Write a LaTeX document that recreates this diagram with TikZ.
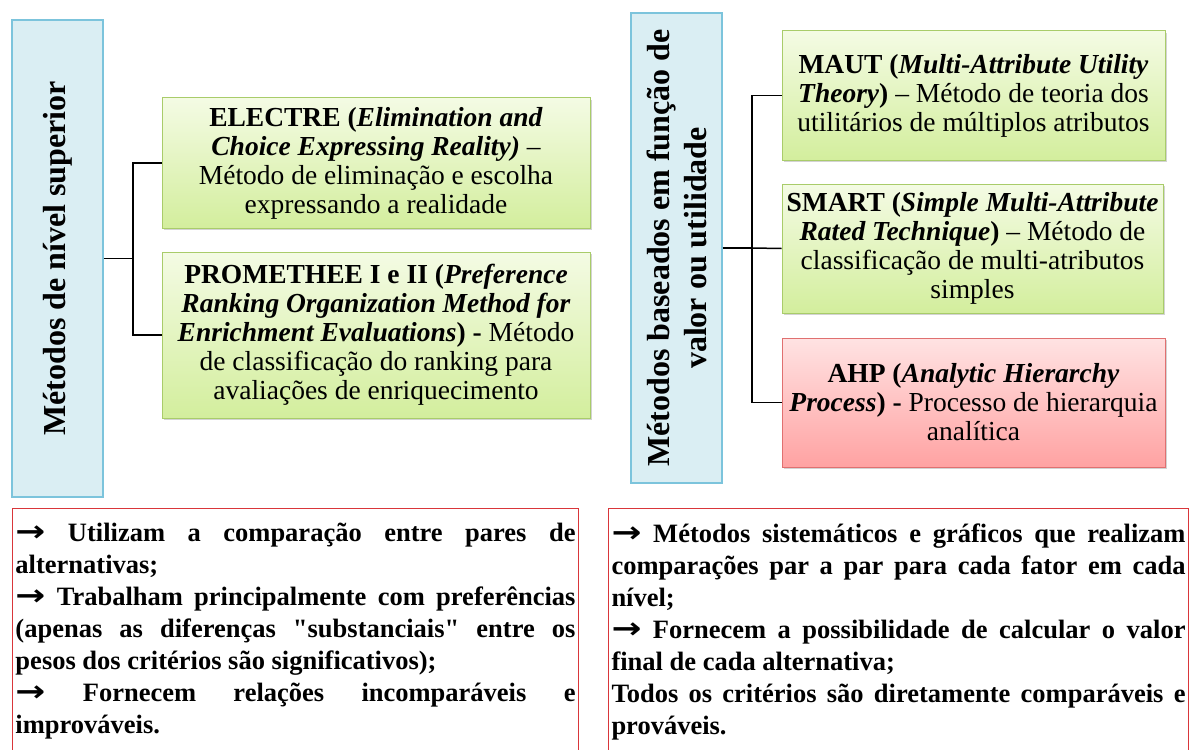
\documentclass[tikz,border=0pt]{standalone}
\usepackage{fontspec}
\usepackage{graphicx}
\setmainfont{Liberation Serif}
\newfontfamily\arrowfont{DejaVu Sans}
\newcommand\seta{\scalebox{1.35}[1.1]{\arrowfont →}}
\usetikzlibrary{shadows}
\definecolor{grpfill}{HTML}{DAEEF3}
\definecolor{grpline}{HTML}{7CC4DC}
\definecolor{mtop}{HTML}{F4FBE4}
\definecolor{mbot}{HTML}{D3EE9D}
\definecolor{mline}{HTML}{A9CC6A}
\definecolor{ptop}{HTML}{FFE3E3}
\definecolor{pbot}{HTML}{FFA2A2}
\definecolor{pline}{HTML}{E07070}
\definecolor{nline}{HTML}{D9363A}
\hyphenpenalty=10000
\tikzset{
  grpbox/.style={draw=grpline, fill=grpfill, line width=1.2pt, rotate=90, align=center,
    minimum height=91pt, font=\fontsize{32}{37}\selectfont\bfseries},
  methbox/.style={draw=mline, top color=mtop, bottom color=mbot, line width=1pt, align=center,
    drop shadow={shadow xshift=1.5pt, shadow yshift=-2pt, opacity=0.35},
    font=\fontsize{27.5}{29}\selectfont},
  ahpbox/.style={methbox, draw=pline, top color=ptop, bottom color=pbot},
  notebox/.style={draw=nline, line width=1pt, anchor=north west, inner xsep=3pt,
    minimum height=246pt, align=justify, font=\fontsize{26.5}{32}\selectfont\bfseries},
  link/.style={line width=1.5pt}
}
\begin{document}
\begin{tikzpicture}[x=1pt,y=-1pt]
\useasboundingbox (0,0) rectangle (1193,749);
\clip (0,0) rectangle (1193,749);

\node[grpbox, minimum width=477pt] (nivel) at (57.5,258.5) {Métodos de nível superior};
\node[methbox, minimum width=428pt, minimum height=130pt] (electre) at (376,163)
  {\textbf{ELECTRE (\textit{Elimination and}}\\ \textbf{\textit{Choice Expressing Reality)}} –\\
   Método de eliminação e escolha\\ expressando a realidade};
\node[methbox, minimum width=428pt, minimum height=166pt] (promethee) at (376,335)
  {\textbf{PROMETHEE I e II (\textit{Preference}}\\ \textbf{\textit{Ranking Organization Method for}}\\
   \textbf{\textit{Enrichment Evaluations}) -} Método\\ de classificação do ranking para\\
   avaliações de enriquecimento};

\node[grpbox, minimum width=470pt] (valor) at (676.5,248)
  {Métodos baseados em função de\\ valor ou utilidade};
\node[methbox, minimum width=383pt, minimum height=129pt] (maut) at (973.5,95.5)
  {\textbf{MAUT (\textit{Multi-Attribute Utility}}\\ \textbf{\textit{Theory})} – Método de teoria dos\\
   utilitários de múltiplos atributos};
\node[methbox, minimum width=381pt, minimum height=129pt] (smart) at (972.5,248.5)
  {\textbf{SMART (\textit{Simple Multi-Attribute}}\\ \textbf{\textit{Rated Technique})} – Método de\\
   classificação de multi-atributos\\ simples};
\node[ahpbox, minimum width=383pt, minimum height=129pt] (ahp) at (973.5,402.5)
  {\textbf{AHP (\textit{Analytic Hierarchy}}\\ \textbf{\textit{Process}) -} Processo de hierarquia\\ analítica};

\coordinate (lj) at (133,258.5);
\coordinate (rj) at (752,248);
\draw[link] (nivel) -- (lj);
\draw[link] (electre.west) -| (lj) |- (promethee.west);
\draw[link] (valor) -- (rj);
\draw[link] (maut.west) -| (rj) |- (ahp.west);
\draw[link] (smart.west) -- (rj);

\node[notebox, text width=560pt] (obsnivel) at (12,508)
  {\seta{} Utilizam a comparação entre pares de\linebreak alternativas;\par
   \seta{} Trabalham principalmente com preferências\linebreak (apenas as diferenças \textquotedbl substanciais\textquotedbl{} entre os\linebreak
   pesos dos critérios são significativos);\par
   \seta{} Fornecem relações incomparáveis e\linebreak improváveis.};
\node[notebox, text width=574pt] (obsvalor) at (608,508)
  {\seta{} Métodos sistemáticos e gráficos que realizam\linebreak comparações par a par para cada fator em cada\linebreak nível;\par
   \seta{} Fornecem a possibilidade de calcular o valor\linebreak final de cada alternativa;\par
   Todos os critérios são diretamente comparáveis e\linebreak prováveis.};
\end{tikzpicture}
\end{document}
